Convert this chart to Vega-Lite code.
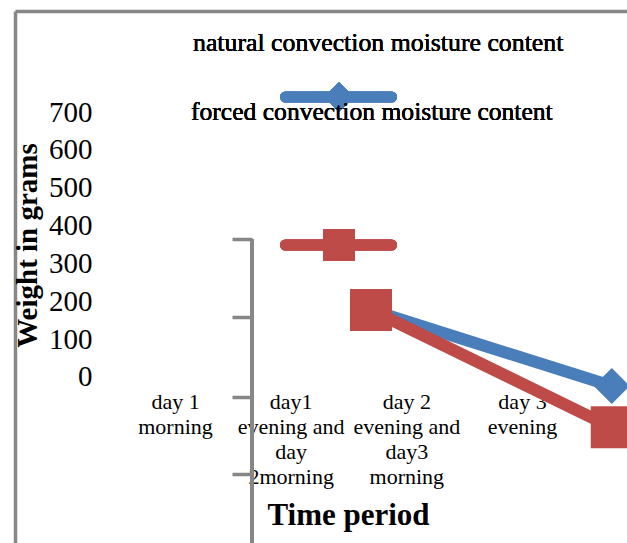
{
  "$schema": "https://vega.github.io/schema/vega-lite/v6.json",
  "width": 612,
  "height": 532,
  "autosize": {"type": "none"},
  "padding": {"left": 15, "top": 11, "right": 0, "bottom": 0},
  "config": {"view": {"stroke": null}, "font": "Liberation Serif", "axis": {"grid": false}},
  "data": {"values": [
    {"period": 2.6945, "weight": 177, "series": "natural convection moisture content"},
    {"period": 4.776, "weight": -24, "series": "natural convection moisture content"},
    {"period": 2.6945, "weight": 177, "series": "forced convection moisture content"},
    {"period": 4.776, "weight": -133, "series": "forced convection moisture content"}
  ]},
  "resolve": {"axis": {"y": "independent"}},
  "layer": [
    {
      "transform": [{"filter": "datum.series == 'natural convection moisture content'"}],
      "mark": {"type": "line", "color": "#4A7EBB", "strokeWidth": 12},
      "encoding": {
        "x": {"field": "period", "type": "quantitative",
          "scale": {"domain": [-0.3833, 4.9078], "nice": false, "zero": false},
          "axis": {"orient": "top", "title": "Time period", "values": [1, 2, 3, 4],
            "labelExpr": "datum.value == 1 ? ['day 1', 'morning'] : datum.value == 2 ? ['day1', 'evening and', 'day', '2morning'] : datum.value == 3 ? ['day 2', 'evening and', 'day3', 'morning'] : ['day 3', 'evening']",
            "domain": true, "domainColor": "#878787", "domainWidth": 3.5,
            "ticks": false, "tickSize": 0, "labelPadding": -380,
            "labelBaseline": "top", "labelAlign": "center", "labelFont": "Liberation Serif", "labelFontSize": 22, "labelLineHeight": 25, "labelColor": "black",
            "labelOverlap": false, "labelFlush": false, "labelBound": false,
            "titleFont": "Liberation Serif", "titleFontSize": 31, "titleFontWeight": "bold", "titleColor": "black",
            "titleX": 333, "titleY": 504, "titleAlign": "center", "titleBaseline": "middle", "grid": false}},
        "y": {"field": "weight", "type": "quantitative",
          "scale": {"domain": [-438.5, 966.8], "nice": false, "zero": false},
          "axis": {"orient": "left", "title": "Weight in grams", "values": [0, 100, 200, 300, 400, 500, 600, 700],
            "domain": true, "domainColor": "#878787", "domainWidth": 3.5,
            "ticks": false, "tickSize": 0, "labelPadding": -77,
            "labelAlign": "right", "labelBaseline": "middle", "labelFont": "Liberation Serif", "labelFontSize": 29, "labelColor": "black",
            "labelOverlap": false, "labelFlush": false, "labelBound": false,
            "titleFont": "Liberation Serif", "titleFontSize": 29, "titleFontWeight": "bold", "titleColor": "black",
            "titleAngle": 270, "titleX": 12, "titleY": 234, "titleAlign": "center", "titleBaseline": "middle", "grid": false}}
      }
    },
    {
      "transform": [{"filter": "datum.series == 'natural convection moisture content'"}],
      "mark": {"type": "point", "shape": "diamond", "filled": true, "opacity": 1, "color": "#4A7EBB", "size": 1300},
      "encoding": {
        "x": {"field": "period", "type": "quantitative", "scale": {"domain": [-0.3833, 4.9078], "nice": false, "zero": false}},
        "y": {"field": "weight", "type": "quantitative", "scale": {"domain": [-438.5, 966.8], "nice": false, "zero": false}, "axis": null}
      }
    },
    {
      "transform": [{"filter": "datum.series == 'forced convection moisture content'"}],
      "mark": {"type": "line", "color": "#BE4B48", "strokeWidth": 12},
      "encoding": {
        "x": {"field": "period", "type": "quantitative", "scale": {"domain": [-0.3833, 4.9078], "nice": false, "zero": false}},
        "y": {"field": "weight", "type": "quantitative", "scale": {"domain": [-438.5, 966.8], "nice": false, "zero": false}, "axis": null}
      }
    },
    {
      "transform": [{"filter": "datum.series == 'forced convection moisture content'"}],
      "mark": {"type": "point", "shape": "square", "filled": true, "opacity": 1, "color": "#BE4B48", "size": 1764},
      "encoding": {
        "x": {"field": "period", "type": "quantitative", "scale": {"domain": [-0.3833, 4.9078], "nice": false, "zero": false}},
        "y": {"field": "weight", "type": "quantitative", "scale": {"domain": [-438.5, 966.8], "nice": false, "zero": false}, "axis": null}
      }
    },
    {
      "mark": {"type": "rule", "color": "#878787", "strokeWidth": 3.5},
      "encoding": {
        "x": {"datum": 1.6657, "type": "quantitative"},
        "y": {"datum": 364.5, "type": "quantitative",
          "axis": {"orient": "left", "offset": -237, "values": [364.5, 159.3, -52, -256.2], "title": null,
            "domain": false, "labels": false, "ticks": true, "tickSize": 20, "tickWidth": 3.5, "tickColor": "#878787", "grid": false}},
        "y2": {"datum": -438.5}
      }
    },
    {
      "mark": {"type": "rule", "color": "#4A7EBB", "strokeWidth": 11, "strokeCap": "round"},
      "encoding": {
        "x": {"datum": 1.9553, "type": "quantitative"},
        "x2": {"datum": 2.8718},
        "y": {"datum": 739.6, "type": "quantitative", "axis": null}
      }
    },
    {
      "mark": {"type": "point", "shape": "diamond", "filled": true, "opacity": 1, "color": "#4A7EBB", "size": 900},
      "encoding": {
        "x": {"datum": 2.4179, "type": "quantitative"},
        "y": {"datum": 739.6, "type": "quantitative", "axis": null}
      }
    },
    {
      "mark": {"type": "rule", "color": "#BE4B48", "strokeWidth": 11, "strokeCap": "round"},
      "encoding": {
        "x": {"datum": 1.9553, "type": "quantitative"},
        "x2": {"datum": 2.8718},
        "y": {"datum": 348.7, "type": "quantitative", "axis": null}
      }
    },
    {
      "mark": {"type": "point", "shape": "square", "filled": true, "opacity": 1, "color": "#BE4B48", "size": 1024},
      "encoding": {
        "x": {"datum": 2.4179, "type": "quantitative"},
        "y": {"datum": 348.7, "type": "quantitative", "axis": null}
      }
    },
    {
      "mark": {"type": "text", "align": "left", "baseline": "alphabetic", "font": "Liberation Serif", "fontSize": 25.8, "color": "black"},
      "encoding": {
        "x": {"datum": 1.1556, "type": "quantitative"},
        "y": {"datum": 861.1, "type": "quantitative", "axis": null},
        "text": {"value": "natural convection moisture content"}
      }
    },
    {
      "mark": {"type": "text", "align": "left", "baseline": "alphabetic", "font": "Liberation Serif", "fontSize": 25.6, "color": "black"},
      "encoding": {
        "x": {"datum": 1.1383, "type": "quantitative"},
        "y": {"datum": 678.9, "type": "quantitative", "axis": null},
        "text": {"value": "forced convection moisture content"}
      }
    }
  ]
}
